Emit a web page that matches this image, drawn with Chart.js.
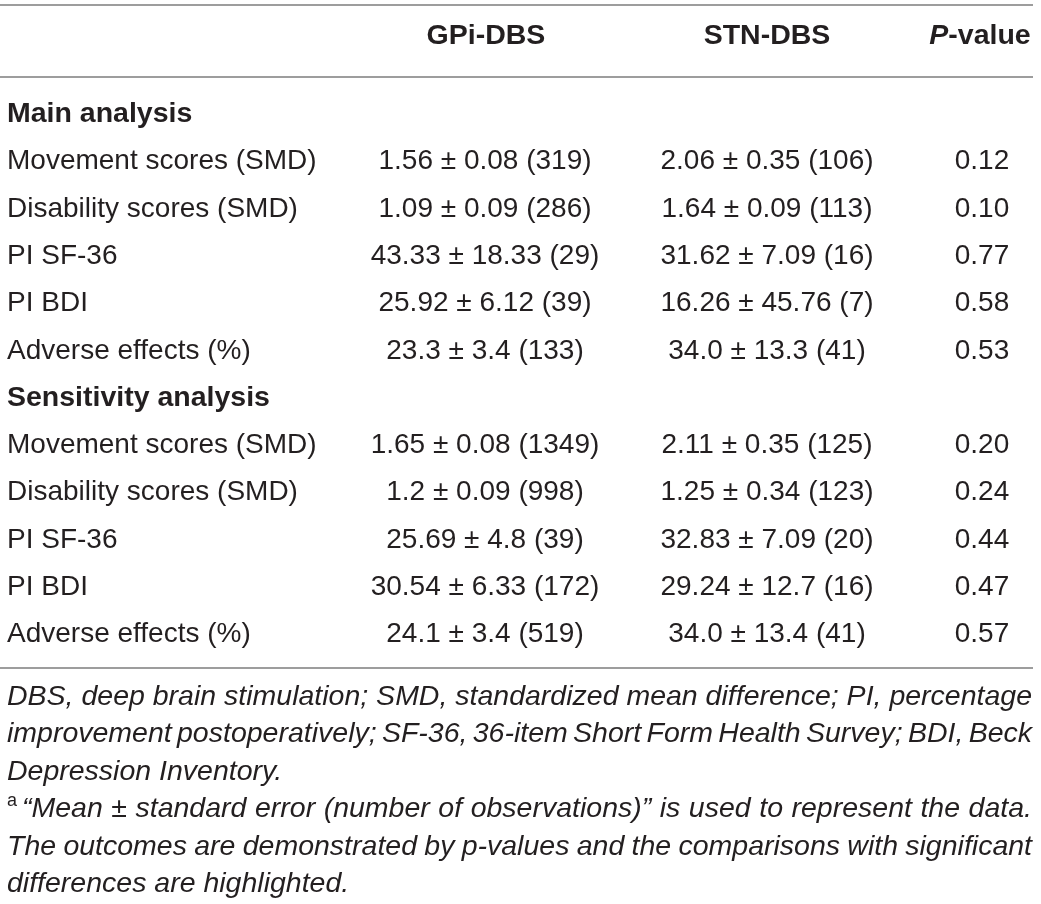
<!DOCTYPE html>
<html>
<head>
<meta charset="utf-8">
<script src="https://cdn.jsdelivr.net/npm/chart.js@4.4.1/dist/chart.umd.min.js"></script>
<style>
  html, body { margin: 0; padding: 0; background: #fff; }
  #wrap { width: 1041px; height: 904px; position: relative; }
</style>
</head>
<body>
<div id="wrap"><canvas id="tableChart"></canvas></div>
<script>
// table content
const columnHeaders = ['', 'GPi-DBS', 'STN-DBS', 'P-value'];
const sections = ['Main analysis', 'Sensitivity analysis'];
const outcomes = ['Movement scores (SMD)', 'Disability scores (SMD)', 'PI SF-36', 'PI BDI', 'Adverse effects (%)'];

// Mean, standard error, number of observations per section
const gpiMean = [['1.56', '1.09', '43.33', '25.92', '23.3'], ['1.65', '1.2', '25.69', '30.54', '24.1']];
const gpiSE   = [['0.08', '0.09', '18.33', '6.12', '3.4'],  ['0.08', '0.09', '4.8', '6.33', '3.4']];
const gpiN    = [[319, 286, 29, 39, 133],                   [1349, 998, 39, 172, 519]];
const stnMean = [['2.06', '1.64', '31.62', '16.26', '34.0'], ['2.11', '1.25', '32.83', '29.24', '34.0']];
const stnSE   = [['0.35', '0.09', '7.09', '45.76', '13.3'],  ['0.35', '0.34', '7.09', '12.7', '13.4']];
const stnN    = [[106, 113, 16, 7, 41],                      [125, 123, 20, 16, 41]];
const pValues = [['0.12', '0.10', '0.77', '0.58', '0.53'],   ['0.20', '0.24', '0.44', '0.47', '0.57']];

const footnotes = [
  'DBS, deep brain stimulation; SMD, standardized mean difference; PI, percentage',
  'improvement postoperatively; SF-36, 36-item Short Form Health Survey; BDI, Beck',
  'Depression Inventory.',
  '“Mean ± standard error (number of observations)” is used to represent the data.',
  'The outcomes are demonstrated by p-values and the comparisons with significant',
  'differences are highlighted.'
];
const justified = [true, true, false, true, true, false];

// layout (in page units, mapped through the chart scales)
const colX = [7, 485, 767, 982];
const headerX = [7, 486, 767, 980];
const headerBase = 44;
const bodyBase = 122, rowStep = 47.3;
const ruleY = [5, 77, 668];
const noteBase = 705, noteStep = 37.4;
const leftEdge = 7, rightEdge = 1032;

const FONT = '"Liberation Sans", Arial, Helvetica, sans-serif';
const INK = '#231f20';

function fmt(m, se, n) { return m + ' \u00b1 ' + se + ' (' + n + ')'; }

function justify(c, text, x0, x1, y) {
  const words = text.split(' ');
  const widths = words.map(w => c.measureText(w).width);
  const total = widths.reduce((a, b) => a + b, 0);
  const gap = (x1 - x0 - total) / (words.length - 1);
  let x = x0;
  words.forEach((w, i) => { c.fillText(w, x, y); x += widths[i] + gap; });
}

const tablePlugin = {
  id: 'tablePlugin',
  afterDraw(chart) {
    const c = chart.ctx;
    const sx = v => chart.scales.x.getPixelForValue(v);
    const sy = v => chart.scales.y.getPixelForValue(v);
    c.save();
    c.fillStyle = INK;
    c.textBaseline = 'alphabetic';

    // rules
    c.strokeStyle = '#9d9d9d';
    c.lineWidth = 2;
    ruleY.forEach(y => {
      c.beginPath(); c.moveTo(sx(0), sy(y)); c.lineTo(sx(rightEdge + 1), sy(y)); c.stroke();
    });

    // header
    c.font = 'bold 28.5px ' + FONT;
    c.textAlign = 'center';
    c.fillText(columnHeaders[1], sx(headerX[1]), sy(headerBase));
    c.fillText(columnHeaders[2], sx(headerX[2]), sy(headerBase));
    const pPart = 'P', rest = columnHeaders[3].slice(1);
    c.font = 'italic bold 28.5px ' + FONT;
    const wP = c.measureText(pPart).width;
    c.font = 'bold 28.5px ' + FONT;
    const wR = c.measureText(rest).width;
    c.textAlign = 'left';
    const px0 = sx(headerX[3]) - (wP + wR) / 2;
    c.font = 'italic bold 28.5px ' + FONT;
    c.fillText(pPart, px0, sy(headerBase));
    c.font = 'bold 28.5px ' + FONT;
    c.fillText(rest, px0 + wP, sy(headerBase));

    // body
    let r = 0;
    sections.forEach((sec, s) => {
      c.font = 'bold 28.5px ' + FONT;
      c.textAlign = 'left';
      c.fillText(sec, sx(colX[0]), sy(bodyBase + r * rowStep));
      r++;
      outcomes.forEach((name, i) => {
        const y = sy(bodyBase + r * rowStep);
        c.font = '28px ' + FONT;
        c.textAlign = 'left';
        c.fillText(name, sx(colX[0]), y);
        c.textAlign = 'center';
        c.fillText(fmt(gpiMean[s][i], gpiSE[s][i], gpiN[s][i]), sx(colX[1]), y);
        c.fillText(fmt(stnMean[s][i], stnSE[s][i], stnN[s][i]), sx(colX[2]), y);
        c.fillText(pValues[s][i], sx(colX[3]), y);
        r++;
      });
    });

    // footnotes
    c.textAlign = 'left';
    footnotes.forEach((line, i) => {
      const y = sy(noteBase + i * noteStep);
      let x0 = leftEdge;
      if (i === 3) {
        c.font = '18px ' + FONT;
        c.fillText('a', sx(leftEdge), y - 11);
        x0 = 22;
      }
      c.font = 'italic 28.5px ' + FONT;
      if (justified[i]) justify(c, line, sx(x0), sx(rightEdge), y);
      else c.fillText(line, sx(x0), y);
    });
    c.restore();
  }
};

new Chart(document.getElementById('tableChart'), {
  type: 'scatter',
  data: { datasets: [{ data: [], pointRadius: 0 }] },
  options: {
    responsive: true,
    maintainAspectRatio: false,
    animation: false,
    layout: { padding: 0 },
    plugins: { legend: { display: false }, tooltip: { enabled: false } },
    scales: {
      x: { type: 'linear', min: 0, max: 1041, display: false },
      y: { type: 'linear', min: 0, max: 904, reverse: true, display: false }
    }
  },
  plugins: [tablePlugin]
});
</script>
</body>
</html>
